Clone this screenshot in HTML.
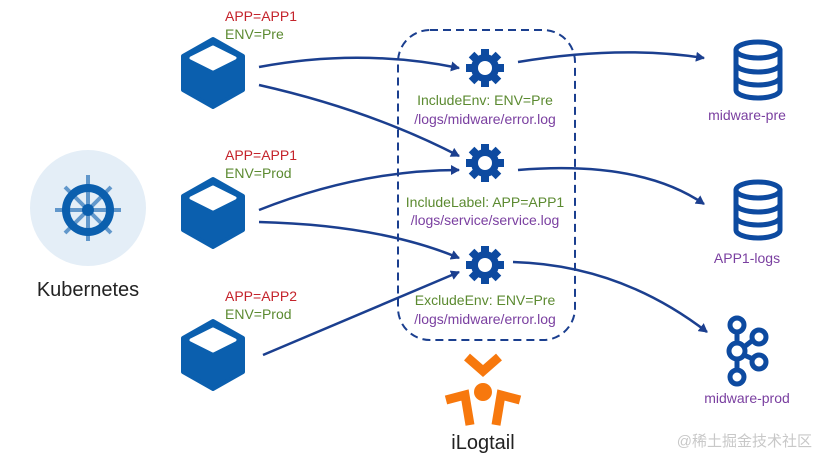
<!DOCTYPE html><html><head><style>body{margin:0;background:#fff}svg{display:block}text{font-family:"Liberation Sans","Noto Sans CJK SC",sans-serif}</style></head><body>
<svg width="828" height="464" viewBox="0 0 828 464" xmlns="http://www.w3.org/2000/svg">
<defs><marker id="a" markerWidth="10" markerHeight="10" refX="8" refY="5" orient="auto" markerUnits="userSpaceOnUse"><path d="M0,0 L9,5 L0,10 Z" fill="#1b3f8f"/></marker>
<g id="cube"><path d="M0,-34 L30,-17 L30,17 L0,34 L-30,17 L-30,-17 Z" fill="#0b5fae" stroke="#0b5fae" stroke-width="4" stroke-linejoin="round"/><path d="M0,-26 L22,-15 L0,-4 L-22,-15 Z" fill="#fff" stroke="#fff" stroke-width="3" stroke-linejoin="round"/></g>
<g id="gear"><g fill="#0d4aa0"><rect x="-4" y="-19" width="8" height="38"/><rect x="-4" y="-19" width="8" height="38" transform="rotate(45)"/><rect x="-4" y="-19" width="8" height="38" transform="rotate(90)"/><rect x="-4" y="-19" width="8" height="38" transform="rotate(135)"/><circle r="14"/></g><circle r="7" fill="#fff"/></g>
<g id="db" fill="none" stroke="#0d4aa0" stroke-width="5"><ellipse cx="0" cy="-20" rx="22" ry="8"/><path d="M-22,-20 V20 A22,8 0 0 0 22,20 V-20 M-22,-6 A22,8 0 0 0 22,-6 M-22,7 A22,8 0 0 0 22,7"/></g>
</defs>
<circle cx="88" cy="208" r="58" fill="#e4eef7"/>
<g stroke="#0b5fae" fill="none"><g stroke-width="4" opacity="0.6"><line x1="88" y1="175" x2="88" y2="241"/><line x1="55" y1="210" x2="121" y2="210"/><line x1="65" y1="187" x2="111" y2="233"/><line x1="111" y1="187" x2="65" y2="233"/></g><circle cx="88" cy="210" r="22" stroke-width="8"/></g><circle cx="88" cy="210" r="6" fill="#0b5fae"/>
<text x="88" y="296" font-size="20" text-anchor="middle" fill="#222">Kubernetes</text>
<use href="#cube" x="213" y="73"/><use href="#cube" x="213" y="213"/><use href="#cube" x="213" y="355"/>
<g font-size="14"><text x="225" y="21" fill="#c4232b">APP=APP1</text><text x="225" y="39" fill="#5b8a30">ENV=Pre</text>
<text x="225" y="160" fill="#c4232b">APP=APP1</text><text x="225" y="178" fill="#5b8a30">ENV=Prod</text>
<text x="225" y="301" fill="#c4232b">APP=APP2</text><text x="225" y="319" fill="#5b8a30">ENV=Prod</text></g>
<rect x="398" y="30" width="177" height="310" rx="32" fill="none" stroke="#1b3f8f" stroke-width="2" stroke-dasharray="8,5"/>
<use href="#gear" x="485" y="68"/><use href="#gear" x="485" y="163"/><use href="#gear" x="485" y="265"/>
<g font-size="14" text-anchor="middle"><text x="485" y="105" fill="#5b8a30">IncludeEnv: ENV=Pre</text><text x="485" y="124" fill="#7a3fa0">/logs/midware/error.log</text>
<text x="485" y="207" fill="#5b8a30">IncludeLabel: APP=APP1</text><text x="485" y="225" fill="#7a3fa0">/logs/service/service.log</text>
<text x="485" y="305" fill="#5b8a30">ExcludeEnv: ENV=Pre</text><text x="485" y="324" fill="#7a3fa0">/logs/midware/error.log</text></g>
<g fill="none" stroke="#1b3f8f" stroke-width="2.5" marker-end="url(#a)">
<path d="M259,67 Q360,48 459,68"/>
<path d="M259,85 Q370,110 459,156"/>
<path d="M259,210 Q360,170 459,170"/>
<path d="M259,222 Q380,225 459,258"/>
<path d="M263,355 Q370,310 459,272"/>
<path d="M518,62 Q620,45 704,58"/>
<path d="M518,170 Q640,160 704,204"/>
<path d="M513,262 Q620,265 707,332"/>
</g>
<use href="#db" x="758" y="70"/><use href="#db" x="758" y="210"/>
<g fill="none" stroke="#0d4aa0" stroke-width="5"><circle cx="737" cy="325" r="7"/><circle cx="737" cy="351" r="8"/><circle cx="737" cy="377" r="7"/><circle cx="759" cy="337" r="7"/><circle cx="759" cy="362" r="7"/><path d="M737,332 V343 M737,359 V370 M744,347 L753,340 M744,355 L753,359"/></g>
<g font-size="14" text-anchor="middle" fill="#7a3fa0"><text x="747" y="120">midware-pre</text><text x="747" y="263">APP1-logs</text><text x="747" y="403">midware-prod</text></g>
<g fill="none" stroke="#f7780d" stroke-width="9"><path d="M467,357 L483,371 L499,357"/><path d="M446,400 L465,395 L470,425"/><path d="M520,400 L501,395 L496,425"/></g><circle cx="483" cy="392" r="9" fill="#f7780d"/>
<text x="483" y="449" font-size="20" text-anchor="middle" fill="#222">iLogtail</text>
<text x="812" y="446" font-size="15" text-anchor="end" fill="#c8c8c8">@稀土掘金技术社区</text>
</svg></body></html>
